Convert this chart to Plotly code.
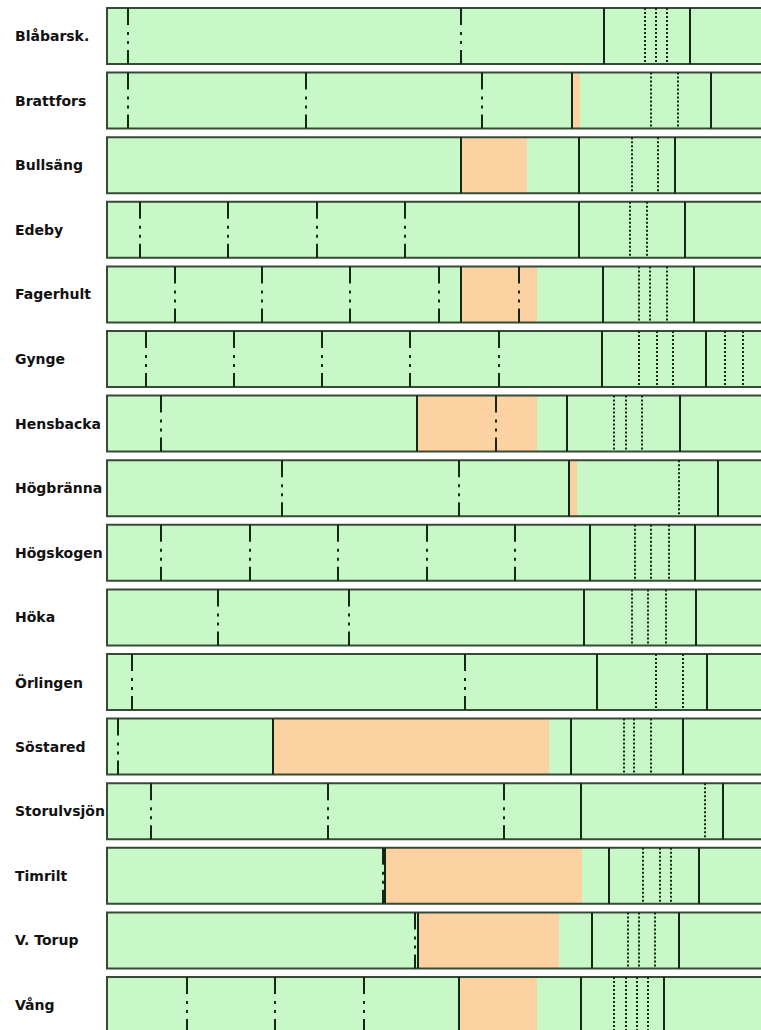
import plotly.graph_objects as go

# ---- data (positions along the time axis) ----
names = ["Blåbarsk.", "Brattfors", "Bullsäng", "Edeby", "Fagerhult", "Gynge",
         "Hensbacka", "Högbränna", "Högskogen", "Höka", "Örlingen", "Söstared",
         "Storulvsjön", "Timrilt", "V. Torup", "Vång"]

dashdot_pos = [
    [21, 354],
    [21, 199, 375],
    [],
    [33, 121, 210, 298],
    [68, 155, 243, 332, 412],
    [39, 127, 215, 303, 392],
    [54, 389],
    [175, 352],
    [54, 143, 231, 320, 408],
    [111, 242],
    [25, 358],
    [11],
    [44, 221, 397],
    [276],
    [308],
    [80, 168, 257],
]

solid_pos = [
    [497, 583],
    [465, 604],
    [354, 472, 568],
    [472, 578],
    [354, 496, 587],
    [495, 599],
    [310, 460, 573],
    [462, 611],
    [483, 588],
    [477, 589],
    [490, 600],
    [166, 464, 576],
    [474, 616],
    [278, 502, 592],
    [311, 485, 572],
    [352, 474, 557],
]

dotted_pos = [
    [538, 549, 560],
    [544, 571],
    [525, 551],
    [523, 540],
    [532, 543, 560],
    [532, 550, 566, 618, 636],
    [507, 519, 535],
    [572],
    [528, 544, 562],
    [525, 541, 559],
    [549, 576],
    [517, 527, 544],
    [598],
    [536, 553, 564],
    [521, 532, 548],
    [507, 519, 530, 541],
]

orange_segments = [
    [],
    [(466, 473)],
    [(354, 420)],
    [],
    [(354, 430)],
    [],
    [(310, 430)],
    [(462, 470)],
    [],
    [],
    [],
    [(166, 442)],
    [],
    [(279, 475)],
    [(312, 452)],
    [(352, 430)],
]

period_start = 0
period_end = 700

# ---- styling ----
GREEN = "#c8f8c8"
ORANGE = "#fdd2a2"
BORDER = "#364a36"
LINE = "#152815"
HALF = 0.4334
DASHDOT = "17px,7px,3px,6px,3px,6px,20px,10px"

fig = go.Figure()
# invisible trace to set up axes
fig.add_trace(go.Scatter(x=[period_start], y=[0], mode="markers",
                         marker=dict(opacity=0), showlegend=False, hoverinfo="skip"))

shapes = []
annotations = []
for i, name in enumerate(names):
    y0, y1 = i - HALF, i + HALF
    shapes.append(dict(type="rect", xref="x", yref="y", x0=period_start, x1=period_end,
                       y0=y0, y1=y1, fillcolor=GREEN, line=dict(width=0), layer="above"))
    for a, b in orange_segments[i]:
        shapes.append(dict(type="rect", xref="x", yref="y", x0=a, x1=b, y0=y0, y1=y1,
                           fillcolor=ORANGE, line=dict(width=0), layer="above"))
    shapes.append(dict(type="rect", xref="x", yref="y", x0=period_start, x1=period_end,
                       y0=y0, y1=y1, fillcolor="rgba(0,0,0,0)",
                       line=dict(color=BORDER, width=2), layer="above"))
    for x in dotted_pos[i]:
        shapes.append(dict(type="line", xref="x", yref="y", x0=x, x1=x, y0=y0, y1=y1,
                           line=dict(color=LINE, width=2, dash="2px,2px"), layer="above"))
    for x in dashdot_pos[i]:
        shapes.append(dict(type="line", xref="x", yref="y", x0=x, x1=x, y0=y0, y1=y1,
                           line=dict(color=LINE, width=2, dash=DASHDOT), layer="above"))
    for x in solid_pos[i]:
        shapes.append(dict(type="line", xref="x", yref="y", x0=x, x1=x, y0=y0, y1=y1,
                           line=dict(color=LINE, width=2), layer="above"))
    annotations.append(dict(xref="paper", yref="y", x=-0.1402, y=i, text=name,
                            showarrow=False, xanchor="left", yanchor="middle",
                            font=dict(family="DejaVu Sans", size=14, color="#111111",
                                      weight="bold")))

fig.update_layout(
    width=761, height=1030,
    margin=dict(l=105, r=0, t=0, b=0),
    paper_bgcolor="white", plot_bgcolor="white",
    shapes=shapes, annotations=annotations,
    showlegend=False,
    xaxis=dict(range=[-2, 654], visible=False, fixedrange=True),
    yaxis=dict(range=[15.387, -0.5573], visible=False, fixedrange=True),
)

fig.write_html(
    "out.html",
    config={"displayModeBar": False, "staticPlot": True},
    post_script="document.body.style.margin='0';document.body.style.overflow='hidden';",
)
